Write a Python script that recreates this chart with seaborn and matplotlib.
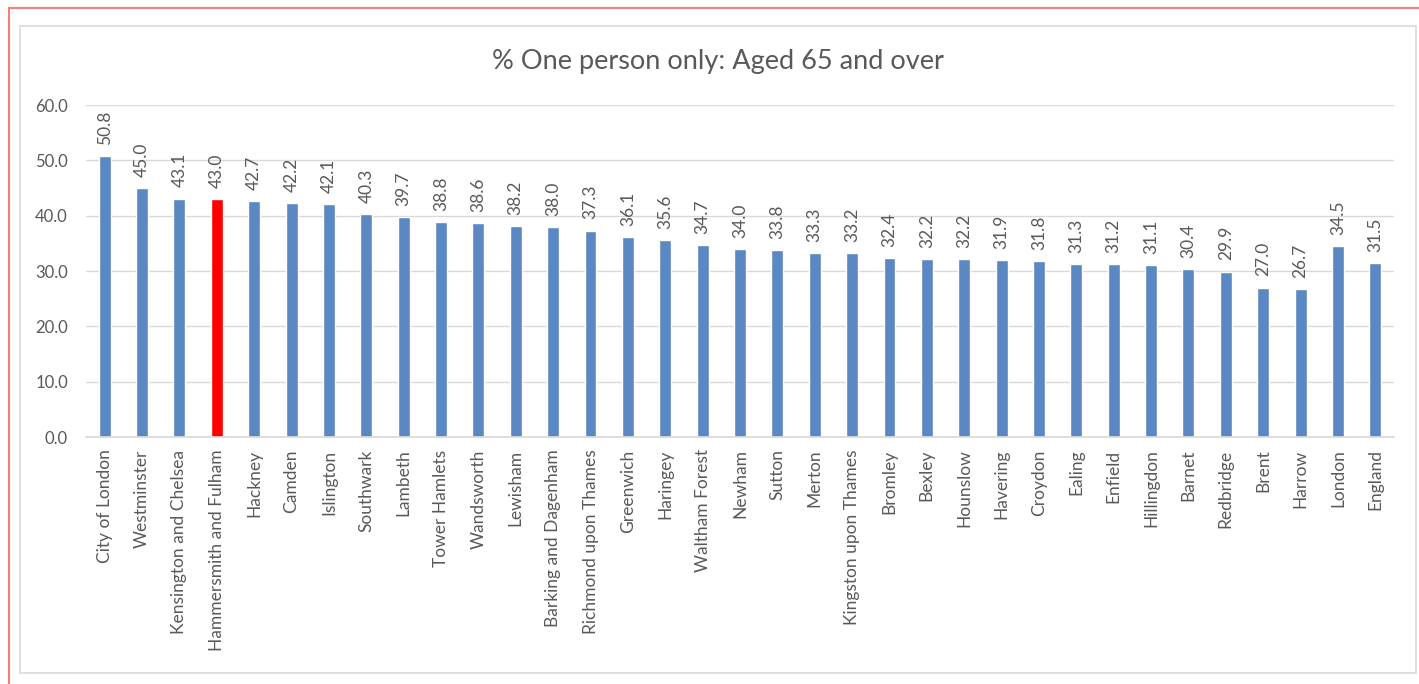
import matplotlib
matplotlib.use("Agg")
import matplotlib.pyplot as plt
from matplotlib.patches import Rectangle
from matplotlib.lines import Line2D
import seaborn as sns

areas = [
    "City of London", "Westminster", "Kensington and Chelsea", "Hammersmith and Fulham",
    "Hackney", "Camden", "Islington", "Southwark", "Lambeth", "Tower Hamlets",
    "Wandsworth", "Lewisham", "Barking and Dagenham", "Richmond upon Thames", "Greenwich",
    "Haringey", "Waltham Forest", "Newham", "Sutton", "Merton", "Kingston upon Thames",
    "Bromley", "Bexley", "Hounslow", "Havering", "Croydon", "Ealing", "Enfield",
    "Hillingdon", "Barnet", "Redbridge", "Brent", "Harrow", "London", "England",
]
pct_one_person_65 = [
    50.8, 45.0, 43.1, 43.0, 42.7, 42.2, 42.1, 40.3, 39.7, 38.8,
    38.6, 38.2, 38.0, 37.3, 36.1, 35.6, 34.7, 34.0, 33.8, 33.3, 33.2,
    32.4, 32.2, 32.2, 31.9, 31.8, 31.3, 31.2, 31.1, 30.4, 29.9, 27.0, 26.7,
    34.5, 31.5,
]
highlight = "Hammersmith and Fulham"
title = "% One person only: Aged 65 and over"
y_ticks = [0, 10, 20, 30, 40, 50, 60]

BLUE = "#5B88C2"
RED = "#FF0000"
TEXT = "#595959"
GRID = "#D9D9D9"

sns.set_theme(style="white")
plt.rcParams["font.family"] = ["Lato", "DejaVu Sans"]

fig = plt.figure(figsize=(14.19, 6.84), dpi=100)
W, H = 1419, 684

# outer frame pieces (left and top) and inner chart border
fig.add_artist(Line2D([9 / W, 9 / W], [0, 1 - 8 / H], color="#F08080", lw=1.5,
                      transform=fig.transFigure))
fig.add_artist(Line2D([9 / W, 1], [1 - 8 / H, 1 - 8 / H], color="#F08080", lw=1.5,
                      transform=fig.transFigure))
fig.add_artist(Rectangle((20 / W, 1 - 673 / H), (1416 - 20) / W, (673 - 26) / H,
                         fill=False, edgecolor="#D9D9D9", lw=1.2,
                         transform=fig.transFigure))

ax = fig.add_axes([86 / W, 1 - 437 / H, (1394 - 86) / W, (437 - 105) / H])

palette = {a: (RED if a == highlight else BLUE) for a in areas}
sns.barplot(x=areas, y=pct_one_person_65, hue=areas, palette=palette,
            legend=False, width=0.32, saturation=1, ax=ax)

ax.set_xlim(-0.5, len(areas) - 0.5)
ax.set_ylim(0, 60)
ax.set_yticks(y_ticks)
ax.set_yticklabels([f"{t:.1f}" for t in y_ticks], color=TEXT, fontsize=12)
ax.yaxis.grid(True, color=GRID, lw=1)
ax.set_axisbelow(True)
for s in ["top", "right", "left"]:
    ax.spines[s].set_visible(False)
ax.spines["bottom"].set_color(GRID)
ax.spines["bottom"].set_linewidth(1.2)
ax.tick_params(axis="x", length=0, pad=9)
ax.tick_params(axis="y", length=0, pad=13)
ax.set_xticks(range(len(areas)))
ax.set_xticklabels(areas, rotation=90, color=TEXT, fontsize=12.5, va="top")
ax.set_xlabel("")
ax.set_ylabel("")

for i, v in enumerate(pct_one_person_65):
    ax.annotate(f"{v:.1f}", (i, v), xytext=(0, 8), textcoords="offset points",
                rotation=90, ha="center", va="bottom", color=TEXT, fontsize=12.5)

fig.text(718 / W, 1 - 62 / H, title, ha="center", va="center",
         color=TEXT, fontsize=19.5)

fig.savefig("out.png", dpi=100, facecolor="white")
